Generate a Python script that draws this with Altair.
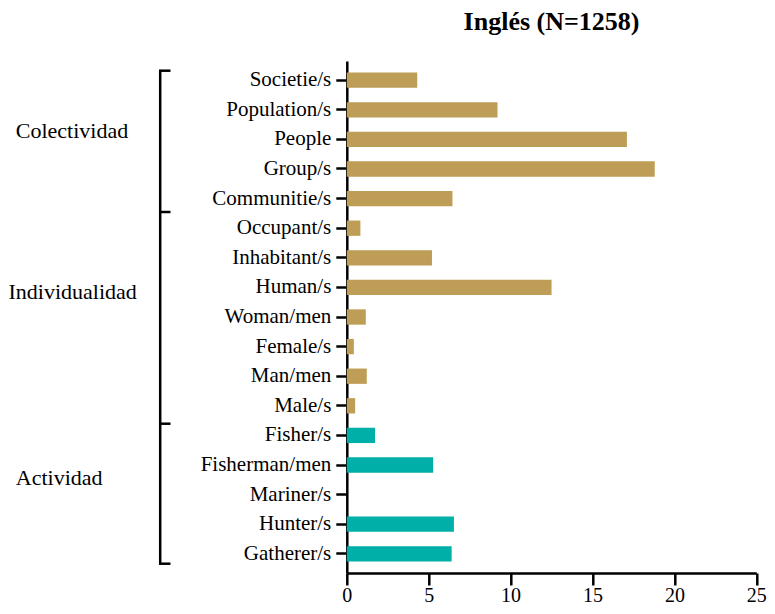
import altair as alt
import pandas as pd

categories = [
    "Societie/s", "Population/s", "People", "Group/s", "Communitie/s",
    "Occupant/s", "Inhabitant/s", "Human/s", "Woman/men", "Female/s",
    "Man/men", "Male/s", "Fisher/s", "Fisherman/men", "Mariner/s",
    "Hunter/s", "Gatherer/s",
]
values = [4.3, 9.2, 17.1, 18.8, 6.45, 0.83, 5.2, 12.5, 1.16, 0.43,
          1.22, 0.51, 1.72, 5.27, 0.0, 6.54, 6.4]
kinds = ["Persona"] * 12 + ["Actividad"] * 5
x_ticks = [0, 5, 10, 15, 20, 25]
title_text = "Inglés (N=1258)"

GOLD = "#BE9D56"
TEAL = "#00AFA8"
FONT = "Liberation Serif"

df = pd.DataFrame({"cat": categories, "val": values, "kind": kinds})

yenc = alt.Y("cat:N", sort=None,
             scale=alt.Scale(domain=categories, paddingInner=0.483, paddingOuter=0.39),
             axis=alt.Axis(title=None, labelFont=FONT, labelFontSize=21,
                           labelColor="black", labelPadding=5,
                           tickSize=11, tickWidth=2.5, tickColor="black",
                           domainWidth=2.5, domainColor="black"))

bars = alt.Chart(df).mark_bar().encode(
    x=alt.X("val:Q", scale=alt.Scale(domain=[0, 25], nice=False),
            axis=alt.Axis(title=None, values=x_ticks, grid=False,
                          labelFont=FONT, labelFontSize=20, labelColor="black",
                          labelPadding=0, tickSize=12, tickWidth=2.5,
                          tickColor="black", domainWidth=2.5,
                          domainColor="black", labelFlush=False)),
    y=yenc,
    color=alt.Color("kind:N", scale=alt.Scale(domain=["Persona", "Actividad"],
                                              range=[GOLD, TEAL]),
                    legend=None),
)

def one(cat):
    return pd.DataFrame({"cat": [cat]})

ysimple = alt.Y("cat:N", sort=None)

BX = -186.6
BX2 = -176.3

vline = alt.Chart(pd.DataFrame({"cat": ["Societie/s"], "cat2": ["Gatherer/s"]})).mark_rule(
    color="black", strokeWidth=2.5, yOffset=-9.5, y2Offset=9.9
).encode(x=alt.value(BX), y=ysimple, y2="cat2:N")

def tick(cat, off):
    return alt.Chart(one(cat)).mark_rule(color="black", strokeWidth=2.5,
                                          yOffset=off).encode(
        x=alt.value(BX - 1.2), x2=alt.value(BX2), y=ysimple)

ticks = [tick("Societie/s", -9.5), tick("Communitie/s", 13.4),
         tick("Male/s", 17.9), tick("Gatherer/s", 9.9)]

def label(cat, text, off, xpos):
    return alt.Chart(pd.DataFrame({"cat": [cat], "t": [text]})).mark_text(
        font=FONT, fontSize=22, color="black", align="left",
        baseline="middle", yOffset=off).encode(
        x=alt.value(xpos), y=ysimple, text="t:N")

labels = [label("People", "Colectividad", -8, -331),
          label("Human/s", "Individualidad", 5, -338.3),
          label("Fisherman/men", "Actividad", 13, -331)]

chart = alt.layer(bars, vline, *ticks, *labels).properties(
    width=409.5, height=512,
    autosize=alt.AutoSizeParams(type="none"),
    padding={"left": 338.8, "top": 53, "right": 10.7, "bottom": 33},
    title=alt.TitleParams(title_text, font=FONT, fontSize=26, fontWeight="bold",
                          color="black", anchor="middle", offset=26),
).configure_view(stroke=None)

chart.save("out.html", embed_options={"renderer": "svg", "actions": False})
